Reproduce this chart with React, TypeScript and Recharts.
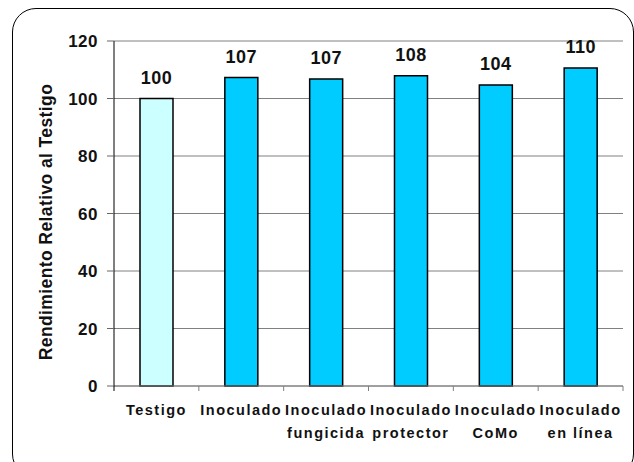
import { BarChart, Bar, XAxis, YAxis, CartesianGrid, LabelList, Cell } from 'recharts'

const categorias = ['Testigo', 'Inoculado', 'Inoculado fungicida', 'Inoculado protector', 'Inoculado CoMo', 'Inoculado en línea']
const rendimiento = [100, 107.3, 106.8, 107.9, 104.7, 110.6]
const etiquetas = ['100', '107', '107', '108', '104', '110']
const ticksY = [0, 20, 40, 60, 80, 100, 120]
const colores = ['#CCFFFF', '#00CCFF', '#00CCFF', '#00CCFF', '#00CCFF', '#00CCFF']

const data = categorias.map((cat, i) => ({
  cat,
  valor: rendimiento[i],
  etiqueta: etiquetas[i],
}))

const fuente = '"Liberation Sans", Arial, sans-serif'

const CategoryTick = ({ x, y, payload, index }: any) => {
  const half = payload?.offset ?? 42.3
  const lines = String(payload.value).split(' ')
  const first = lines[0]
  const rest = lines.slice(1).join(' ')
  return (
    <g>
      <line x1={x + half} y1={y - 8} x2={x + half} y2={y - 3} stroke="#808080" strokeWidth={1} />
      {index === 0 && <line x1={x - half} y1={y - 8} x2={x - half} y2={y - 3} stroke="#000" strokeWidth={1} />}
      <text x={x} y={y + 21} textAnchor="middle" fontFamily={fuente} fontWeight="bold" fontSize={14.5} letterSpacing={1.5} fill="#111">
        {first}
      </text>
      {rest && (
        <text x={x} y={y + 44} textAnchor="middle" fontFamily={fuente} fontWeight="bold" fontSize={14.5} letterSpacing={1.5} fill="#111">
          {rest}
        </text>
      )}
    </g>
  )
}

const YLabel = () => (
  <text
    x={52}
    y={222}
    transform="rotate(-90 52 222)"
    textAnchor="middle"
    fontFamily={fuente}
    fontWeight="bold"
    fontSize={17.5}
    letterSpacing={0.4}
    fill="#111"
  >
    Rendimiento Relativo al Testigo
  </text>
)

export default function App() {
  return (
    <div style={{ position: 'fixed', left: 0, top: 0, width: 634, height: 462, overflow: 'hidden', background: '#fff' }}>
      <div
        style={{
          position: 'absolute',
          left: 12,
          top: 8,
          width: 622,
          height: 470,
          border: '1.5px solid #000',
          borderRadius: 24,
          boxSizing: 'border-box',
        }}
      />
      <div style={{ position: 'absolute', left: 0, top: 0 }}>
        <BarChart width={634} height={462} data={data} margin={{ top: 41, right: 11, left: 0, bottom: 16 }}>
          <CartesianGrid vertical={false} stroke="#808080" strokeWidth={1} />
          <XAxis
            dataKey="cat"
            height={60}
            stroke="#808080"
            tickLine={false}
            tick={<CategoryTick />}
            interval={0}
          />
          <YAxis
            width={114}
            domain={[0, 120]}
            ticks={ticksY}
            stroke="#000"
            tickSize={7}
            tickMargin={9}
            tickLine={{ stroke: '#666' }}
            tick={{ fontFamily: fuente, fontWeight: 'bold', fontSize: 17, fill: '#111', letterSpacing: 0.5 }}
            label={<YLabel />}
          />
          <Bar dataKey="valor" barSize={33} stroke="#000" strokeWidth={1.5} isAnimationActive={false}>
            {data.map((_, i) => (
              <Cell key={i} fill={colores[i]} />
            ))}
            <LabelList
              dataKey="etiqueta"
              position="top"
              offset={15}
              style={{ fontFamily: fuente, fontWeight: 'bold', fontSize: 18, fill: '#111', letterSpacing: 0.5 }}
            />
          </Bar>
        </BarChart>
      </div>
    </div>
  )
}
